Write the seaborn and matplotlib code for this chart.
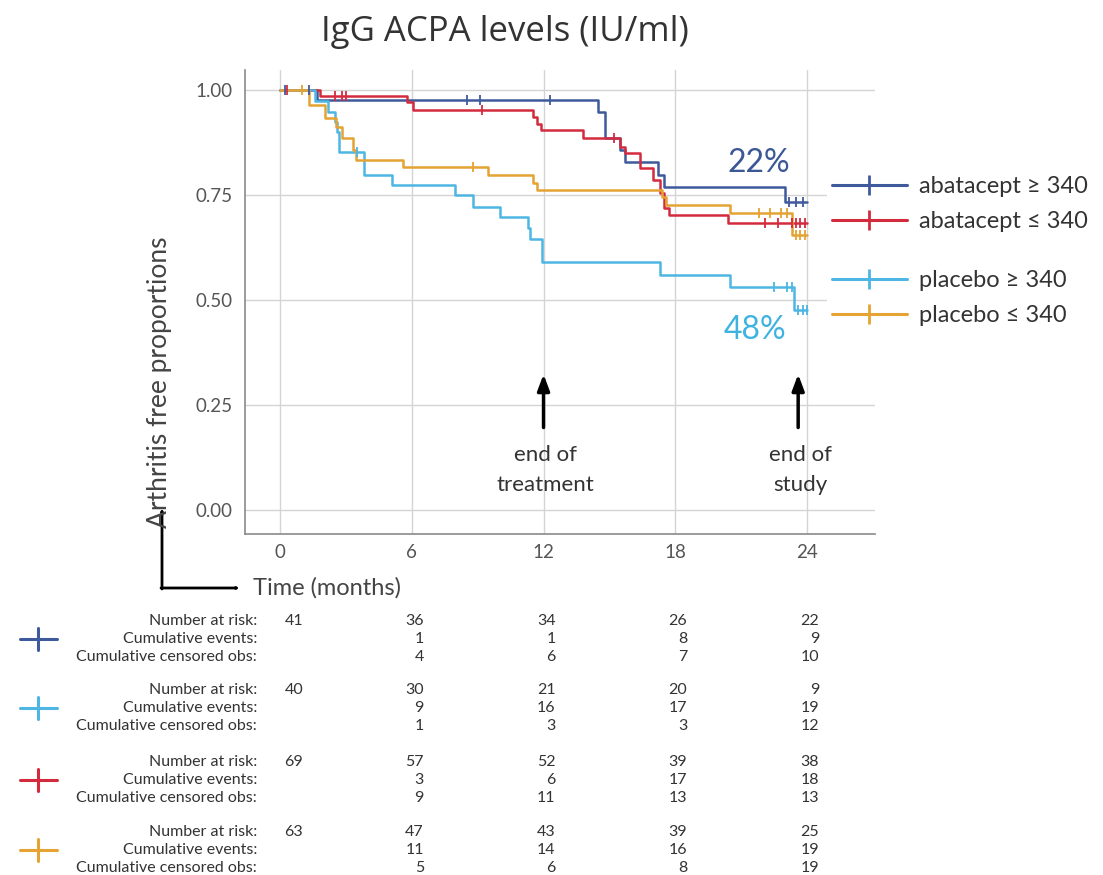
import numpy as np
import pandas as pd
import matplotlib
matplotlib.use("Agg")
import matplotlib.pyplot as plt
import matplotlib.transforms as mtransforms
from matplotlib.lines import Line2D
from matplotlib.patches import FancyArrowPatch
import seaborn as sns

# ---- Kaplan-Meier step data (time in months, survival proportion) ----
groups = ["abatacept ≥ 340", "abatacept ≤ 340", "placebo ≥ 340", "placebo ≤ 340"]
colors = ["#3f5a9c", "#d42a3e", "#4db6e2", "#e4a332"]

aba_hi_t = [0, 1.7, 14.5, 14.8, 15.5, 15.7, 17.2, 17.5, 23.0, 24.0]
aba_hi_s = [1.0, 0.976, 0.948, 0.886, 0.857, 0.829, 0.798, 0.769, 0.733, 0.733]
aba_hi_cens = [0.2, 1.3, 8.5, 9.1, 12.3, 23.2, 23.5, 23.8]

aba_lo_t = [0, 1.8, 5.8, 6.05, 11.5, 11.7, 11.9, 13.8, 15.5, 15.7, 16.4, 17.0, 17.3, 17.5, 17.7, 20.4, 24.0]
aba_lo_s = [1.0, 0.986, 0.971, 0.952, 0.935, 0.92, 0.905, 0.886, 0.864, 0.85, 0.814, 0.786, 0.755, 0.72,
            0.702, 0.683, 0.683]
aba_lo_cens = [0.3, 2.5, 2.8, 3.0, 9.2, 15.2, 22.1, 22.7, 23.3, 23.5, 23.7, 23.9]

pla_hi_t = [0, 1.6, 2.2, 2.5, 2.6, 2.7, 3.8, 5.1, 7.95, 8.8, 10.0, 11.3, 11.4, 11.95, 17.3, 20.5, 23.4, 24.0]
pla_hi_s = [1.0, 0.975, 0.948, 0.924, 0.90, 0.852, 0.798, 0.774, 0.75, 0.722, 0.698, 0.671, 0.645, 0.59,
            0.56, 0.531, 0.476, 0.476]
pla_hi_cens = [3.5, 22.5, 23.1, 23.3, 23.6, 23.8, 24.0]

pla_lo_t = [0, 1.3, 2.05, 2.55, 2.8, 3.3, 3.45, 5.6, 9.45, 11.5, 11.7, 17.4, 17.6, 20.5, 23.3, 24.0]
pla_lo_s = [1.0, 0.964, 0.933, 0.912, 0.886, 0.857, 0.833, 0.816, 0.798, 0.78, 0.762, 0.745, 0.726,
            0.707, 0.655, 0.655]
pla_lo_cens = [1.0, 8.8, 21.8, 22.3, 22.8, 23.1, 23.5, 23.7, 23.9]

# ---- numbers-at-risk table ----
table_times = [0, 6, 12, 18, 24]
table_order = ["abatacept ≥ 340", "placebo ≥ 340", "abatacept ≤ 340", "placebo ≤ 340"]
at_risk = {
    "abatacept ≥ 340": [41, 36, 34, 26, 22],
    "placebo ≥ 340": [40, 30, 21, 20, 9],
    "abatacept ≤ 340": [69, 57, 52, 39, 38],
    "placebo ≤ 340": [63, 47, 43, 39, 25],
}
cum_events = {
    "abatacept ≥ 340": [None, 1, 1, 8, 9],
    "placebo ≥ 340": [None, 9, 16, 17, 19],
    "abatacept ≤ 340": [None, 3, 6, 17, 18],
    "placebo ≤ 340": [None, 11, 14, 16, 19],
}
cum_censored = {
    "abatacept ≥ 340": [None, 4, 6, 7, 10],
    "placebo ≥ 340": [None, 1, 3, 3, 12],
    "abatacept ≤ 340": [None, 9, 11, 13, 13],
    "placebo ≤ 340": [None, 5, 6, 8, 19],
}

steps = {
    "abatacept ≥ 340": (aba_hi_t, aba_hi_s, aba_hi_cens),
    "abatacept ≤ 340": (aba_lo_t, aba_lo_s, aba_lo_cens),
    "placebo ≥ 340": (pla_hi_t, pla_hi_s, pla_hi_cens),
    "placebo ≤ 340": (pla_lo_t, pla_lo_s, pla_lo_cens),
}

curve_rows, cens_rows = [], []
for g, (t, s, c) in steps.items():
    for ti, si in zip(t, s):
        curve_rows.append({"time": ti, "surv": si, "group": g})
    for ci in c:
        idx = np.searchsorted(t, ci, side="right") - 1
        cens_rows.append({"time": ci, "surv": s[idx], "group": g})
curves = pd.DataFrame(curve_rows)
censored = pd.DataFrame(cens_rows)
palette = dict(zip(groups, colors))

# ---- figure ----
sns.set_theme(style="white")
plt.rcParams["font.family"] = ["Lato", "DejaVu Sans"]

W, H = 1103, 875
fig = plt.figure(figsize=(W / 100, H / 100), dpi=100)


def fx(px):
    return px / W


def fy(py):
    return 1 - py / H


ax = fig.add_axes([fx(245), fy(534), fx(875) - fx(245), fy(70) - fy(534)])

sns.lineplot(data=curves, x="time", y="surv", hue="group", palette=palette,
             estimator=None, sort=False, drawstyle="steps-post", linewidth=1.8,
             legend=False, ax=ax, zorder=3)
for g in groups:
    sub = censored[censored["group"] == g]
    ax.plot(sub["time"], sub["surv"], linestyle="none", marker="|", markersize=7,
            markeredgewidth=1.3, color=palette[g], zorder=4)

ax.set_xlim(-1.6, 27.1)
ax.set_ylim(-0.057, 1.048)
ax.set_xticks(table_times)
ax.set_yticks([0, 0.25, 0.5, 0.75, 1.0])
ax.set_yticklabels(["0.00", "0.25", "0.50", "0.75", "1.00"])
ax.grid(True, color="#d4d4d4", linewidth=1)
ax.tick_params(length=0, labelsize=13.5, labelcolor="#555555")
ax.tick_params(axis="x", pad=7)
ax.tick_params(axis="y", pad=9)
for side in ["top", "right"]:
    ax.spines[side].set_visible(False)
for side in ["left", "bottom"]:
    ax.spines[side].set_color("#8a8a8a")
    ax.spines[side].set_linewidth(1.2)
ax.set_xlabel("")
ax.set_ylabel("")

# title and axis labels
fig.text(fx(505), fy(32), "IgG ACPA levels (IU/ml)", ha="center", va="center",
         fontsize=25, color="#333333", family=["Open Sans", "DejaVu Sans"])
fig.text(fx(160), fy(382), "Arthritis free proportions", rotation=90, ha="center",
         va="center", fontsize=19, color="#444444")
fig.text(fx(253), fy(588), "Time (months)", ha="left", va="center", fontsize=17,
         color="#444444")
arrow_kw = dict(arrowstyle="-|>,head_length=0.7,head_width=0.3", color="black", lw=2,
                shrinkA=0, shrinkB=0, transform=fig.transFigure)
fig.add_artist(FancyArrowPatch((fx(162), fy(589)), (fx(162), fy(508)), **arrow_kw))
fig.add_artist(FancyArrowPatch((fx(161), fy(588)), (fx(240), fy(588)), **arrow_kw))

# annotations on the plot
ax.annotate("", xy=(12.0, 0.33), xytext=(12.0, 0.19),
            arrowprops=dict(arrowstyle="-|>,head_length=0.8,head_width=0.3", color="black", lw=2.5))
ax.text(12.1, 0.155, "end of\ntreatment", ha="center", va="top", fontsize=16,
        color="#333333", linespacing=1.6)
ax.annotate("", xy=(23.6, 0.33), xytext=(23.6, 0.19),
            arrowprops=dict(arrowstyle="-|>,head_length=0.8,head_width=0.3", color="black", lw=2.5))
ax.text(23.7, 0.155, "end of\nstudy", ha="center", va="top", fontsize=16,
        color="#333333", linespacing=1.6)
ax.text(21.8, 0.826, "22%", ha="center", va="center", fontsize=23, color="#3b5796")
ax.text(21.65, 0.429, "48%", ha="center", va="center", fontsize=23, color="#3fb3e0")


# legend in two blocks
def handle(c):
    return Line2D([], [], color=c, lw=2.2, marker="|", markersize=15, markeredgewidth=2)


leg_kw = dict(loc="center left", bbox_transform=fig.transFigure, fontsize=17,
              handlelength=3.2, handletextpad=0.5, labelspacing=0.6, frameon=True,
              facecolor="white", edgecolor="none", framealpha=1, borderpad=0.2)
leg1 = ax.legend([handle(palette[g]) for g in groups[:2]], groups[:2],
                 bbox_to_anchor=(fx(815), fy(204)), **leg_kw)
for t in leg1.get_texts():
    t.set_color("#333333")
ax.add_artist(leg1)
leg2 = ax.legend([handle(palette[g]) for g in groups[2:]], groups[2:],
                 bbox_to_anchor=(fx(815), fy(298)), **leg_kw)
for t in leg2.get_texts():
    t.set_color("#333333")

# risk table below the plot
blend = mtransforms.blended_transform_factory(ax.transData, fig.transFigure)
row_labels = ["Number at risk:", "Cumulative events:", "Cumulative censored obs:"]
block_top = [621, 690, 762, 832]
row_gap = 18
tsize = 11.5
for b, g in enumerate(table_order):
    y0 = block_top[b]
    rows = [at_risk[g], cum_events[g], cum_censored[g]]
    for r, (lab, vals) in enumerate(zip(row_labels, rows)):
        y = fy(y0 + r * row_gap)
        fig.text(fx(257), y, lab, ha="right", va="center", fontsize=tsize, color="#333333")
        for t, v in zip(table_times, vals):
            if v is None:
                continue
            if t == 0:
                ax.text(0.2, y, str(v), transform=blend, ha="left", va="center",
                        fontsize=tsize, color="#333333")
            else:
                ax.text(t + 0.55, y, str(v), transform=blend, ha="right", va="center",
                        fontsize=tsize, color="#333333")
    ymid = y0 + row_gap
    c = palette[g]
    fig.add_artist(Line2D([fx(20), fx(57)], [fy(ymid), fy(ymid)], transform=fig.transFigure,
                          color=c, lw=2.2))
    fig.add_artist(Line2D([fx(38), fx(38)], [fy(ymid - 11), fy(ymid + 11)],
                          transform=fig.transFigure, color=c, lw=2.2))

fig.savefig("out.png", dpi=100)
